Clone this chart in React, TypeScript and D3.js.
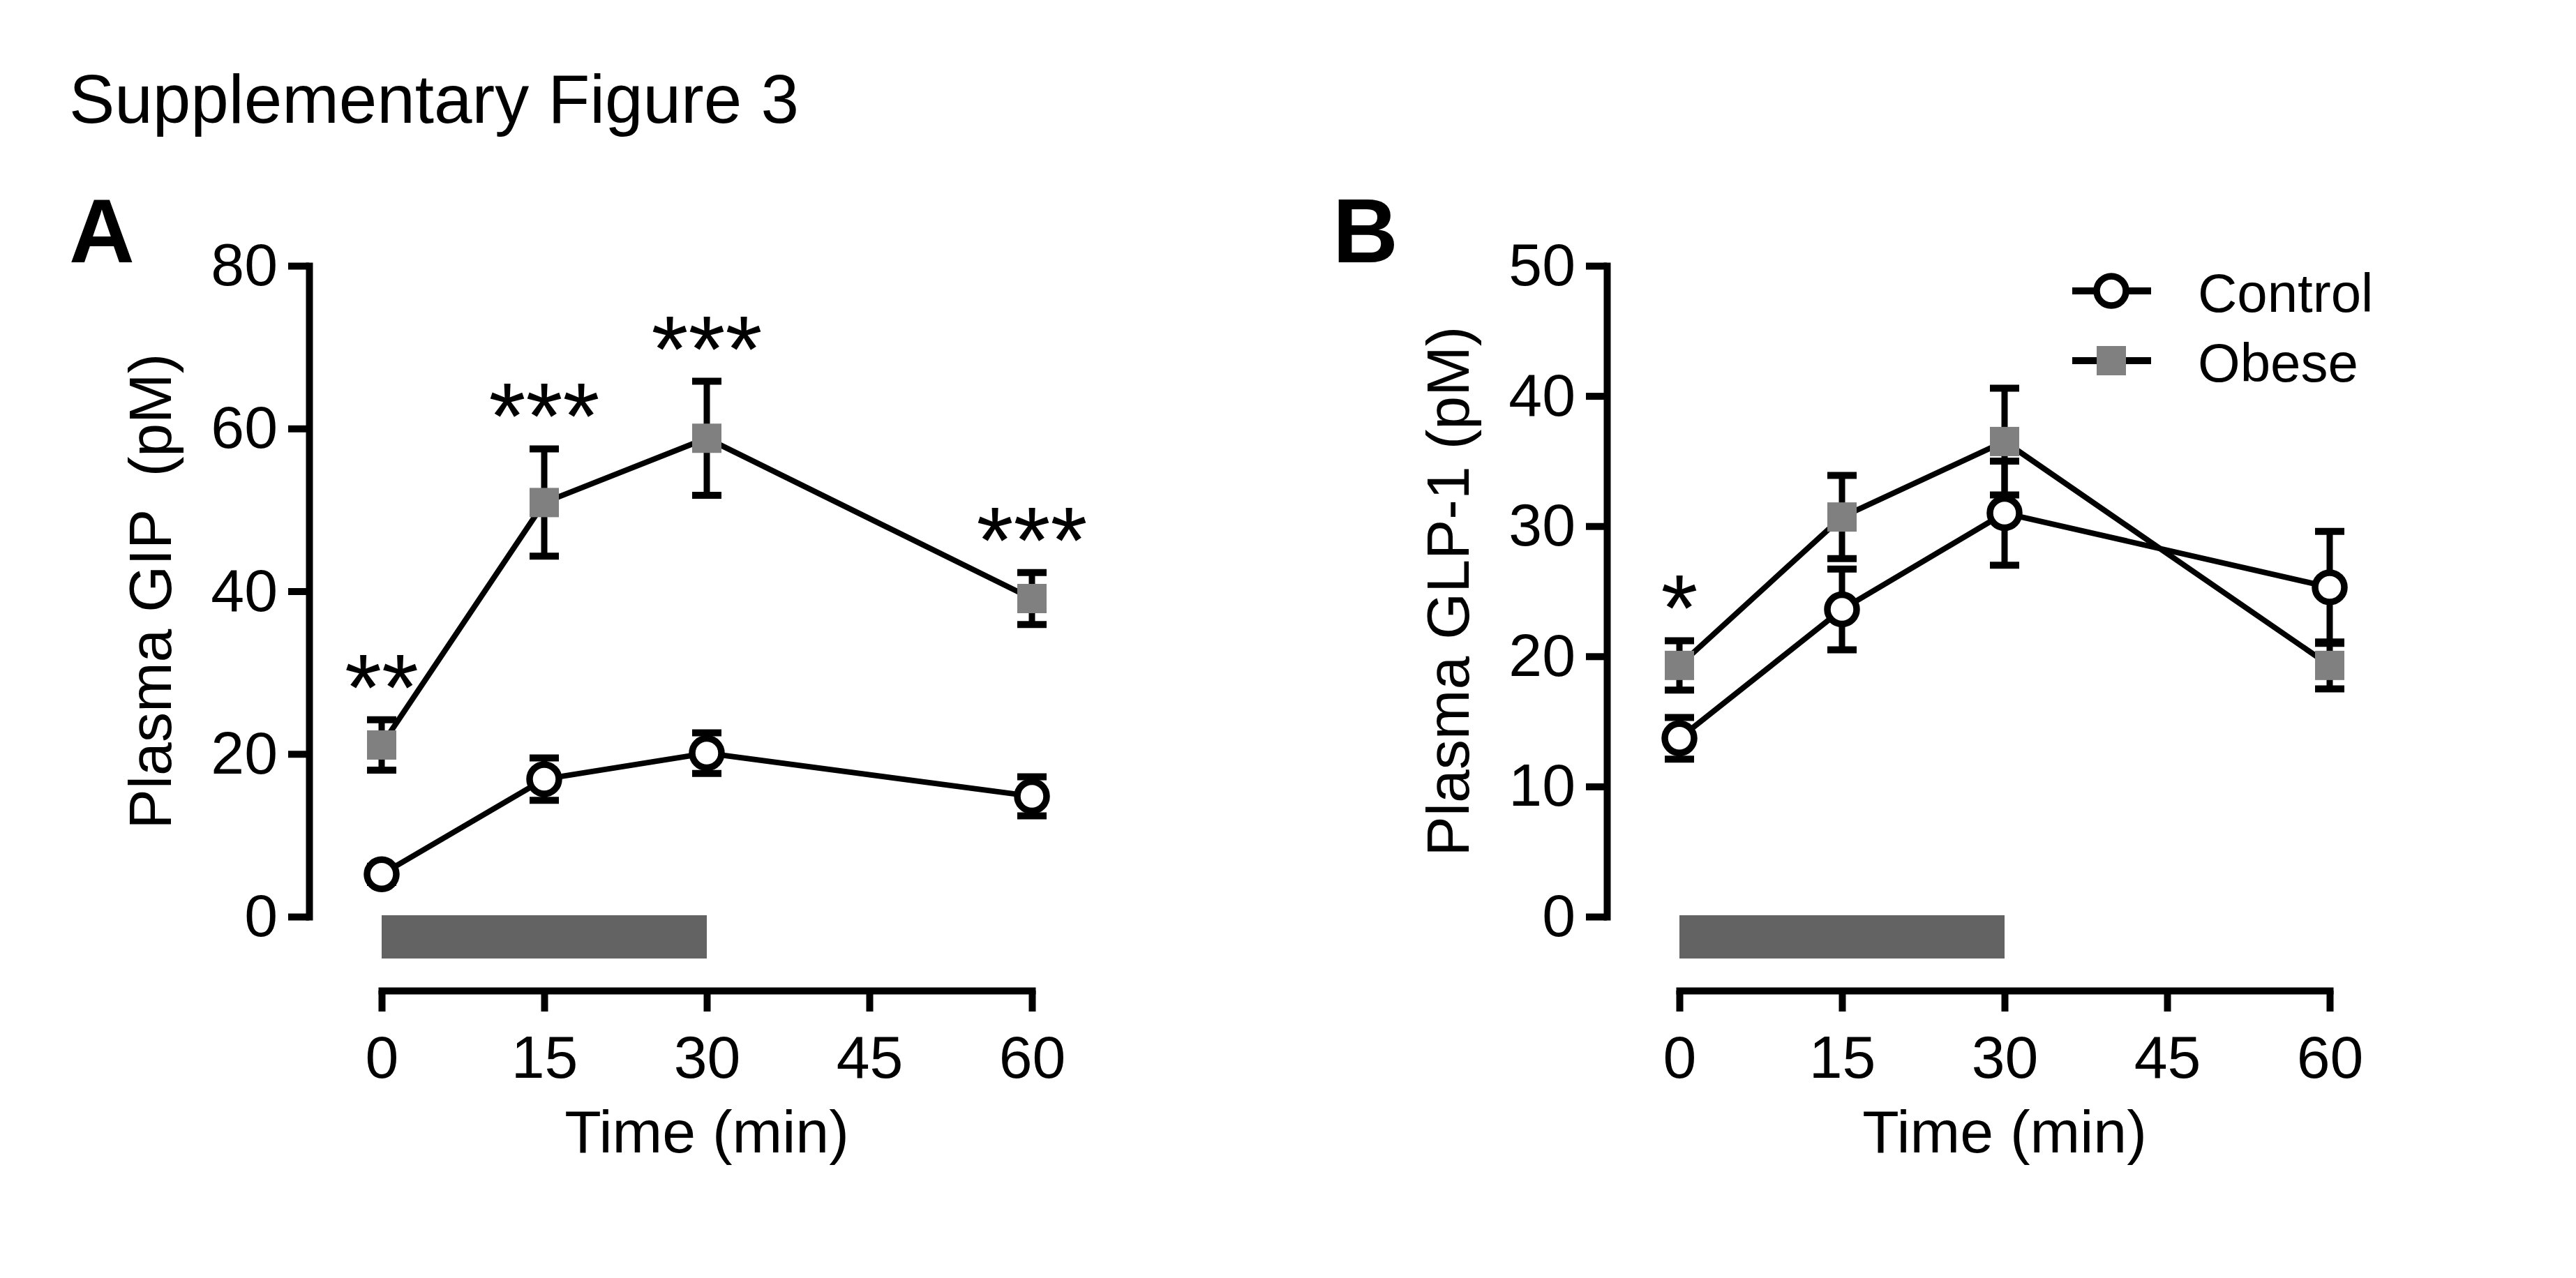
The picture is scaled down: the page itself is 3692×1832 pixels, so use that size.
import { useEffect, useRef } from 'react'
import * as d3 from 'd3'

const timePoints = [0, 15, 30, 60]
const xTicks = [0, 15, 30, 45, 60]

const gipControl = [5.2, 16.9, 20.1, 14.8]
const gipControlSem = [1.0, 2.6, 2.5, 2.4]
const gipObese = [21.1, 50.9, 58.8, 39.1]
const gipObeseSem = [3.1, 6.6, 7.0, 3.2]
const gipStars = ['**', '***', '***', '***']
const gipTicks = [0, 20, 40, 60, 80]

const glpControl = [13.7, 23.6, 31.0, 25.3]
const glpControlSem = [1.6, 3.1, 4.0, 4.3]
const glpObese = [19.3, 30.7, 36.5, 19.3]
const glpObeseSem = [1.9, 3.2, 4.1, 1.8]
const glpStars = ['*', '', '', '']
const glpTicks = [0, 10, 20, 30, 40, 50]

const infusionWindow = [0, 30]
const legendLabels = ['Control', 'Obese']

const FONT = '"Liberation Sans", Arial, Helvetica, sans-serif'
const W = 3692
const H = 1832

interface PanelSpec {
  axisX: number
  yMax: number
  yTicks: number[]
  yLabel: string
  letter: string
  letterX: number
  control: number[]
  controlSem: number[]
  obese: number[]
  obeseSem: number[]
  stars: string[]
  legend: boolean
}

function drawPanel(root: d3.Selection<SVGGElement, unknown, null, undefined>, p: PanelSpec) {
  const g = root.append('g')
  const x = d3.scaleLinear().domain([0, 60]).range([p.axisX + 104, p.axisX + 1036])
  const y = d3.scaleLinear().domain([0, p.yMax]).range([1314, 381])
  const xAxisY = 1420

  // panel letter
  g.append('text')
    .attr('x', p.letterX).attr('y', 376)
    .attr('font-family', FONT).attr('font-weight', 'bold').attr('font-size', 130)
    .text(p.letter)

  // y axis
  const ya = g.append('g')
    .attr('transform', `translate(${p.axisX},0)`)
    .call(d3.axisLeft(y).tickValues(p.yTicks).tickSize(30).tickSizeOuter(0).tickPadding(15))
  ya.select('.domain').attr('stroke', '#000').attr('stroke-width', 10).attr('stroke-linecap', 'square')
  ya.selectAll('.tick line').attr('stroke', '#000').attr('stroke-width', 10)
  ya.selectAll('.tick text').attr('font-family', FONT).attr('font-size', 86).attr('fill', '#000')

  // y axis title
  g.append('text')
    .attr('transform', `translate(${p.axisX - 198},${(y(0) + y(p.yMax)) / 2}) rotate(-90)`)
    .attr('text-anchor', 'middle')
    .attr('font-family', FONT).attr('font-size', 86)
    .attr('xml:space', 'preserve')
    .style('white-space', 'pre')
    .text(p.yLabel)

  // x axis
  const xa = g.append('g')
    .attr('transform', `translate(0,${xAxisY})`)
    .call(d3.axisBottom(x).tickValues(xTicks).tickSize(30).tickSizeOuter(0).tickPadding(34))
  xa.select('.domain').attr('stroke', '#000').attr('stroke-width', 10).attr('stroke-linecap', 'square')
  xa.selectAll('.tick line').attr('stroke', '#000').attr('stroke-width', 10)
  xa.selectAll('.tick text').attr('font-family', FONT).attr('font-size', 86).attr('fill', '#000')

  g.append('text')
    .attr('x', x(30)).attr('y', 1652)
    .attr('text-anchor', 'middle')
    .attr('font-family', FONT).attr('font-size', 86)
    .text('Time (min)')

  // infusion bar
  g.append('rect')
    .attr('x', x(infusionWindow[0])).attr('y', 1312)
    .attr('width', x(infusionWindow[1]) - x(infusionWindow[0])).attr('height', 62)
    .attr('fill', '#636363')

  const series = [
    { vals: p.control, sem: p.controlSem, kind: 'circle' },
    { vals: p.obese, sem: p.obeseSem, kind: 'square' },
  ]

  const line = d3.line<number>()
    .x((_d, i) => x(timePoints[i]))
    .y((d) => y(d))

  series.forEach((s) => {
    const sg = g.append('g')
    // error bars
    s.vals.forEach((v, i) => {
      const cx = x(timePoints[i])
      const top = y(v + s.sem[i])
      const bot = y(v - s.sem[i])
      sg.append('line').attr('x1', cx).attr('x2', cx).attr('y1', top).attr('y2', bot)
        .attr('stroke', '#000').attr('stroke-width', 9)
      ;[top, bot].forEach((yy) => {
        sg.append('line').attr('x1', cx - 21).attr('x2', cx + 21).attr('y1', yy).attr('y2', yy)
          .attr('stroke', '#000').attr('stroke-width', 10)
      })
    })
    sg.append('path')
      .datum(s.vals)
      .attr('fill', 'none').attr('stroke', '#000').attr('stroke-width', 8)
      .attr('stroke-linejoin', 'round')
      .attr('d', line)
    s.vals.forEach((v, i) => {
      const cx = x(timePoints[i])
      const cy = y(v)
      if (s.kind === 'circle') {
        sg.append('circle').attr('cx', cx).attr('cy', cy).attr('r', 21)
          .attr('fill', '#fff').attr('stroke', '#000').attr('stroke-width', 9.5)
      } else {
        sg.append('rect').attr('x', cx - 21).attr('y', cy - 21).attr('width', 42).attr('height', 42)
          .attr('fill', '#808080')
      }
    })
  })

  // significance stars
  p.stars.forEach((st, i) => {
    if (!st) return
    g.append('text')
      .attr('x', x(timePoints[i])).attr('y', y(p.obese[i] + p.obeseSem[i]))
      .attr('text-anchor', 'middle')
      .attr('font-family', FONT).attr('font-size', 136)
      .text(st)
  })

  if (p.legend) {
    const lg = g.append('g')
    legendLabels.forEach((lab, i) => {
      const ly = 417 + i * 100
      lg.append('line').attr('x1', 2970).attr('x2', 3083).attr('y1', ly).attr('y2', ly)
        .attr('stroke', '#000').attr('stroke-width', 10)
      if (i === 0) {
        lg.append('circle').attr('cx', 3026).attr('cy', ly).attr('r', 21)
          .attr('fill', '#fff').attr('stroke', '#000').attr('stroke-width', 9.5)
      } else {
        lg.append('rect').attr('x', 3005).attr('y', ly - 21).attr('width', 42).attr('height', 42)
          .attr('fill', '#808080')
      }
      lg.append('text').attr('x', 3150).attr('y', ly + 30)
        .attr('font-family', FONT).attr('font-size', 78)
        .text(lab)
    })
  }
}

export default function App() {
  const svgRef = useRef<SVGSVGElement>(null)

  useEffect(() => {
    if (!svgRef.current) return
    const svg = d3.select(svgRef.current)
    svg.selectAll('*').remove()

    svg.append('rect').attr('width', W).attr('height', H).attr('fill', '#fff')

    svg.append('text')
      .attr('x', 99).attr('y', 176)
      .attr('font-family', FONT).attr('font-size', 98)
      .text('Supplementary Figure 3')

    const root = svg.append('g') as d3.Selection<SVGGElement, unknown, null, undefined>

    drawPanel(root, {
      axisX: 443, yMax: 80, yTicks: gipTicks, yLabel: 'Plasma GIP  (pM)',
      letter: 'A', letterX: 99,
      control: gipControl, controlSem: gipControlSem,
      obese: gipObese, obeseSem: gipObeseSem,
      stars: gipStars, legend: false,
    })
    drawPanel(root, {
      axisX: 2303, yMax: 50, yTicks: glpTicks, yLabel: 'Plasma GLP-1 (pM)',
      letter: 'B', letterX: 1910,
      control: glpControl, controlSem: glpControlSem,
      obese: glpObese, obeseSem: glpObeseSem,
      stars: glpStars, legend: true,
    })
  }, [])

  return (
    <svg
      ref={svgRef}
      width={W}
      height={H}
      style={{ position: 'absolute', left: 0, top: 0, display: 'block' }}
    />
  )
}
